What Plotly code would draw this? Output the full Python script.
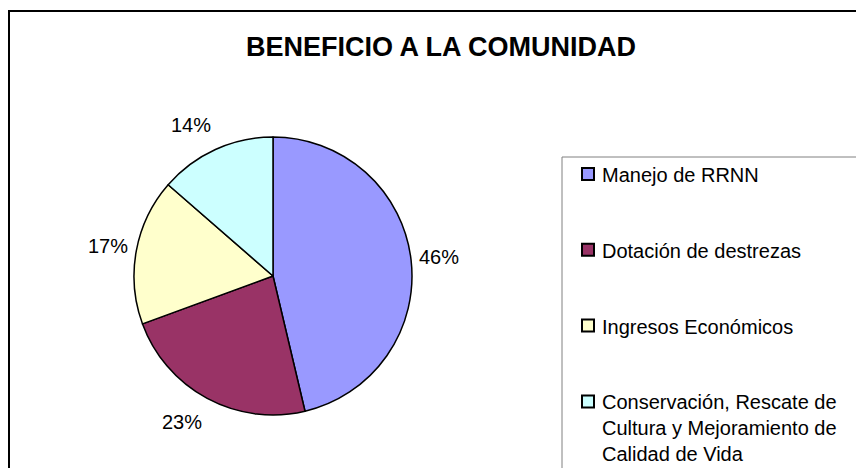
import math
import textwrap
import plotly.graph_objects as go

# ---- data ----
categories = ["Manejo de RRNN", "Dotación de destrezas", "Ingresos Económicos",
              "Conservación, Rescate de Cultura y Mejoramiento de Calidad de Vida"]
values = [46.3, 23.1, 17.0, 13.6]
colors = ["#9999FF", "#993366", "#FFFFCC", "#CCFFFF"]
title_text = "BENEFICIO A LA COMUNIDAD"

# page body has an 8px margin: figure is drawn 8px in from the window corner
OFF = 8
W, H = 864 - OFF, 468 - OFF
FONT = "Liberation Sans, Arial, sans-serif"

# pie geometry (window pixels)
cx, cy, R = 273, 276, 139

def px(x):
    return (x - OFF) / W

def py(y):
    return 1 - (y - OFF) / H

fig = go.Figure(go.Pie(
    labels=categories,
    values=values,
    sort=False,
    direction="clockwise",
    rotation=0,
    marker=dict(colors=colors, line=dict(color="black", width=1.5)),
    textinfo="none",
    hoverinfo="label+percent",
    showlegend=False,
    domain=dict(x=[px(cx - R), px(cx + R)], y=[py(cy + R), py(cy - R)]),
))

annotations = []
shapes = []

# percentage labels outside the pie (placed beyond the slice mid-angle)
total = sum(values)
cum = 0.0
for v in values:
    mid = (cum + v / 2) / total * 2 * math.pi
    cum += v
    ux, uy = math.sin(mid), -math.cos(mid)
    lx = cx + 145 * ux + 22 * (1 if ux >= 0 else -1)
    ly = cy + 166 * uy
    annotations.append(dict(
        x=px(lx), y=py(ly), xref="paper", yref="paper",
        text=f"{round(v / total * 100)}%", showarrow=False,
        xanchor="center", yanchor="middle",
        font=dict(family=FONT, size=20, color="black"),
    ))

# title
annotations.append(dict(
    x=px(441), y=py(47), xref="paper", yref="paper",
    text=f"<b>{title_text}</b>", showarrow=False,
    xanchor="center", yanchor="middle",
    font=dict(family=FONT, size=27, color="black"),
))

# outer frame
shapes.append(dict(type="rect", xref="paper", yref="paper",
                   x0=px(9), y0=py(11), x1=px(900), y1=py(500),
                   line=dict(color="black", width=2), fillcolor="rgba(0,0,0,0)"))

# legend box
shapes.append(dict(type="rect", xref="paper", yref="paper",
                   x0=px(562), y0=py(157), x1=px(900), y1=py(500),
                   line=dict(color="#808080", width=1), fillcolor="rgba(0,0,0,0)"))

# legend entries
leg_y0, leg_step = 174, 75.8
for i, (lab, col) in enumerate(zip(categories, colors)):
    yc = leg_y0 + i * leg_step
    shapes.append(dict(type="rect", xref="paper", yref="paper",
                       x0=px(582), x1=px(594), y0=py(yc - 6), y1=py(yc + 6),
                       line=dict(color="black", width=2), fillcolor=col))
    lines = textwrap.wrap(lab, 25)
    annotations.append(dict(
        x=px(600), y=py(yc - 12), xref="paper", yref="paper",
        text="<br>".join(lines), showarrow=False, align="left",
        xanchor="left", yanchor="top",
        font=dict(family=FONT, size=20, color="black"),
    ))

fig.update_layout(
    width=W, height=H,
    margin=dict(l=0, r=0, t=0, b=0),
    paper_bgcolor="white", plot_bgcolor="white",
    annotations=annotations, shapes=shapes,
)

fig.write_html("out.html")
